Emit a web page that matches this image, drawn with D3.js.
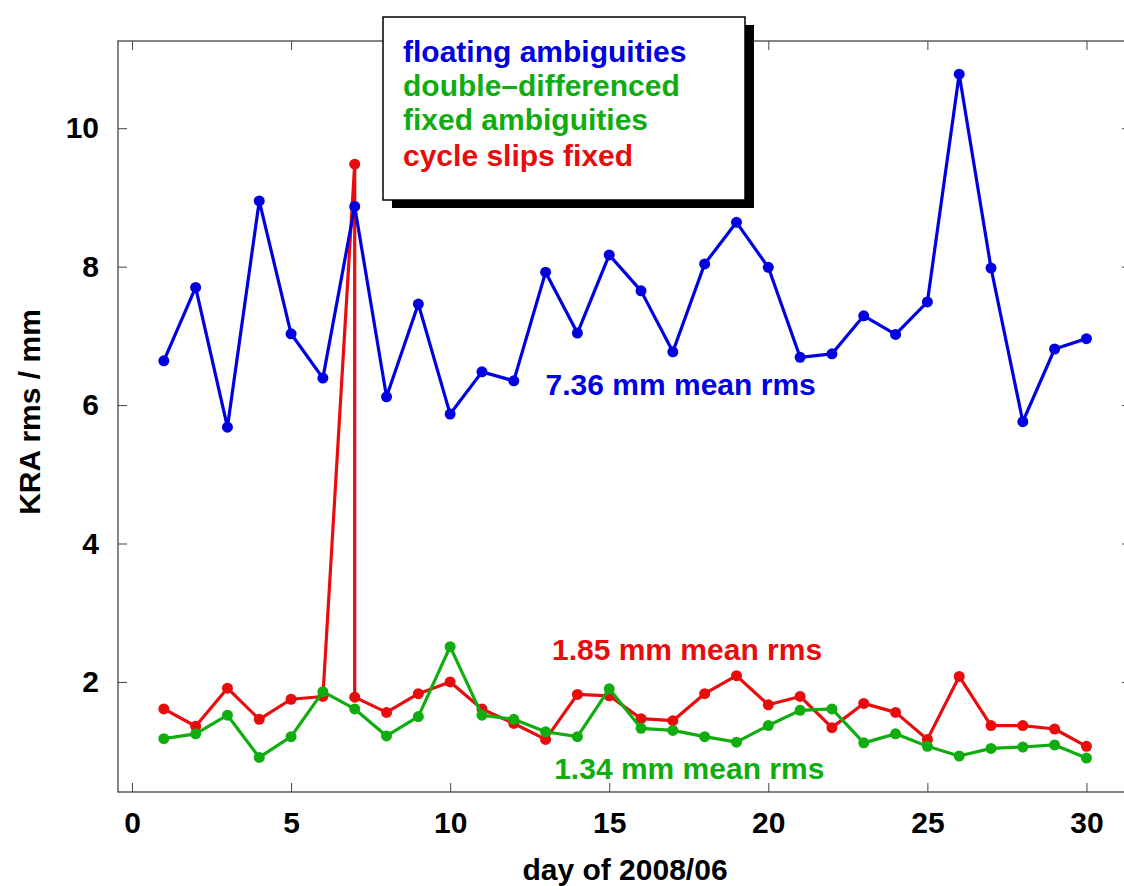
<!DOCTYPE html>
<html>
<head>
<meta charset="utf-8">
<script src="https://cdn.jsdelivr.net/npm/d3@7"></script>
<style>
  html, body { margin: 0; padding: 0; background: #ffffff; }
  svg { display: block; }
  text { font-family: "Liberation Sans", Arial, Helvetica, sans-serif; font-weight: bold; }
</style>
</head>
<body>
<svg id="chart" width="1124" height="886"></svg>
<script>
// ---------- data ----------
const days = [1,2,3,4,5,6,7,8,9,10,11,12,13,14,15,16,17,18,19,20,21,22,23,24,25,26,27,28,29,30];
const floatingValues = [6.64,7.70,5.68,8.95,7.03,6.39,8.87,6.12,7.46,5.87,6.48,6.35,7.92,7.04,8.17,7.65,6.77,8.04,8.64,7.99,6.69,6.74,7.29,7.02,7.49,10.78,7.98,5.76,6.81,6.96];
const fixedValues = [1.18,1.25,1.52,0.91,1.21,1.86,1.61,1.22,1.50,2.51,1.52,1.46,1.28,1.21,1.90,1.33,1.30,1.21,1.13,1.37,1.59,1.61,1.12,1.25,1.07,0.93,1.04,1.06,1.09,0.90];
// cycle slips fixed: day 7 holds two values (spike and corrected)
const slipDays = [1,2,3,4,5,6,7,7,8,9,10,11,12,13,14,15,16,17,18,19,20,21,22,23,24,25,26,27,28,29,30];
const slipValues = [1.61,1.36,1.91,1.46,1.75,1.79,9.48,1.78,1.56,1.83,2.00,1.61,1.40,1.17,1.82,1.80,1.47,1.44,1.83,2.09,1.67,1.79,1.34,1.69,1.56,1.17,2.08,1.37,1.37,1.32,1.07];
const xTicks = [0,5,10,15,20,25,30];
const yTicks = [2,4,6,8,10];
const legendLines = [
  {text: "floating ambiguities", color: "#0000e0"},
  {text: "double\u2013differenced", color: "#10ac10"},
  {text: "fixed ambiguities", color: "#10ac10"},
  {text: "cycle slips fixed", color: "#e80c0c"}
];
const annotations = [
  {text: "7.36 mm mean rms", day: 13.0, value: 6.15, color: "#0000e0"},
  {text: "1.85 mm mean rms", day: 13.2, value: 2.31, color: "#e80c0c"},
  {text: "1.34 mm mean rms", day: 13.27, value: 0.60, color: "#10ac10"}
];

// ---------- layout ----------
const W = 1124, H = 886;
const mLeft = 118, mRight = 1131, mTop = 41, mBottom = 792;
const svg = d3.select("#chart");
svg.append("rect").attr("width", W).attr("height", H).attr("fill", "#fff");

const x = d3.scaleLinear().domain([-0.44, 31.4]).range([mLeft, mRight]);
const y = d3.scaleLinear().domain([0.41, 11.26]).range([mBottom, mTop]);

const frameColor = "#444";

// axes
const gx = svg.append("g").attr("transform", `translate(0,${mBottom})`)
  .call(d3.axisBottom(x).tickValues(xTicks).tickSizeInner(-9).tickSizeOuter(0).tickPadding(20));
const gy = svg.append("g").attr("transform", `translate(${mLeft},0)`)
  .call(d3.axisLeft(y).tickValues(yTicks).tickSizeInner(-9).tickSizeOuter(0).tickPadding(19));
const gxt = svg.append("g").attr("transform", `translate(0,${mTop})`)
  .call(d3.axisTop(x).tickValues(xTicks).tickSizeInner(-9).tickSizeOuter(0).tickFormat(""));
const gyr = svg.append("g").attr("transform", `translate(${mRight},0)`)
  .call(d3.axisRight(y).tickValues(yTicks).tickSizeInner(-9).tickSizeOuter(0).tickFormat(""));
[gx, gy, gxt, gyr].forEach(g => {
  g.select(".domain").remove();
  g.selectAll(".tick line").attr("stroke", frameColor).attr("stroke-width", 1);
  g.selectAll(".tick text").attr("font-size", 30).attr("fill", "#000")
    .attr("font-family", "'Liberation Sans', Arial, sans-serif").attr("font-weight", "bold");
});

// frame
svg.append("rect").attr("x", mLeft).attr("y", mTop)
  .attr("width", mRight - mLeft).attr("height", mBottom - mTop)
  .attr("fill", "none").attr("stroke", frameColor).attr("stroke-width", 1.3);

// axis titles
svg.append("text").attr("x", 625).attr("y", 880).attr("text-anchor", "middle")
  .attr("font-size", 30).attr("fill", "#000").text("day of 2008/06");
svg.append("text").attr("transform", "translate(40,412) rotate(-90)").attr("text-anchor", "middle")
  .attr("font-size", 30).attr("fill", "#000").text("KRA rms / mm");

// series
function drawSeries(xs, vs, color) {
  const pts = xs.map((d, i) => [d, vs[i]]);
  const line = d3.line().x(d => x(d[0])).y(d => y(d[1]));
  svg.append("path").datum(pts).attr("d", line)
    .attr("fill", "none").attr("stroke", color).attr("stroke-width", 3.2).attr("stroke-linejoin", "round");
  svg.append("g").selectAll("circle").data(pts).join("circle")
    .attr("cx", d => x(d[0])).attr("cy", d => y(d[1])).attr("r", 5.5).attr("fill", color);
}
drawSeries(slipDays, slipValues, "#e80c0c");
drawSeries(days, fixedValues, "#10ac10");
drawSeries(days, floatingValues, "#0000e0");

// annotations
svg.append("g").selectAll("text").data(annotations).join("text")
  .attr("x", d => x(d.day)).attr("y", d => y(d.value))
  .attr("font-size", 30).attr("fill", d => d.color).text(d => d.text);

// legend box with shadow
const lg = svg.append("g");
lg.append("rect").attr("x", 392).attr("y", 25).attr("width", 362).attr("height", 183).attr("fill", "#000");
lg.append("rect").attr("x", 383).attr("y", 17).attr("width", 362).attr("height", 183)
  .attr("fill", "#fff").attr("stroke", "#000").attr("stroke-width", 1.5);
const legendBaselines = [62, 96, 130, 166];
lg.selectAll("text").data(legendLines).join("text")
  .attr("x", 403).attr("y", (d, i) => legendBaselines[i])
  .attr("font-size", 30).attr("fill", d => d.color).text(d => d.text);
</script>
</body>
</html>
